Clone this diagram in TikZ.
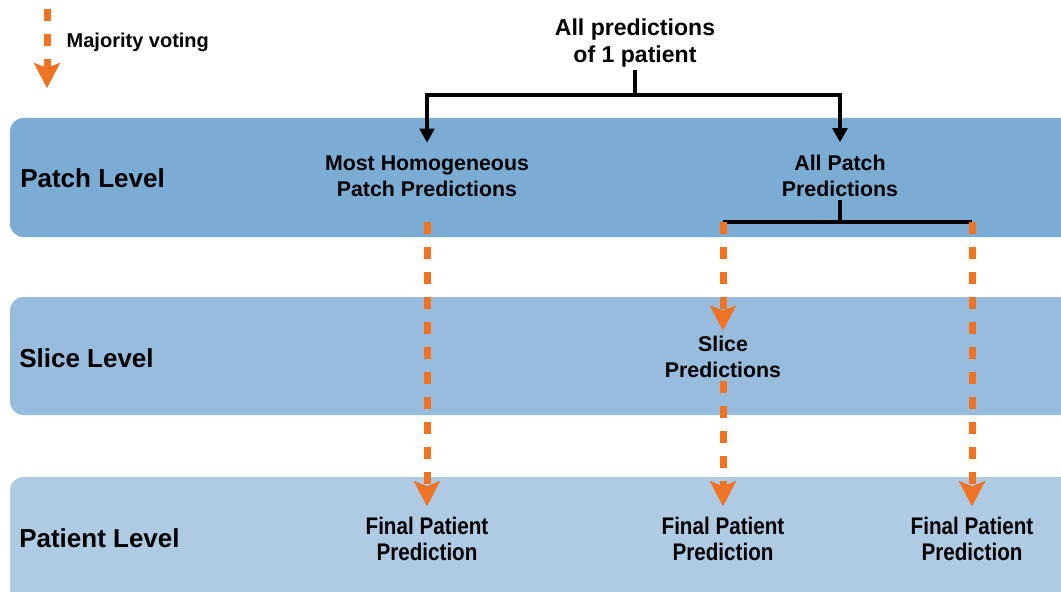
\documentclass[tikz,border=0pt]{standalone}
\usepackage{fontspec}
\setmainfont{Liberation Sans}
\newfontfamily\narrowsans{Liberation Sans}[FakeStretch=0.86]
\usetikzlibrary{arrows.meta}

\definecolor{patchband}{RGB}{123,173,212}
\definecolor{sliceband}{RGB}{151,188,221}
\definecolor{patientband}{RGB}{175,203,228}
\definecolor{voteorange}{RGB}{240,115,35}

\tikzset{
  band/.style={fill=#1, rounded corners=10pt},
  levelname/.style={anchor=west, inner sep=0pt, font=\bfseries\fontsize{19.5}{23}\selectfont},
  pred/.style={align=center, inner sep=2pt, font=\bfseries\fontsize{16}{19.5}\selectfont},
  finalpred/.style={align=center, inner sep=2pt, font=\narrowsans\bfseries\fontsize{18}{19.5}\selectfont},
  split/.style={draw=black, line width=2.4pt},
  vote/.style={draw=voteorange, line width=5.25pt, dash pattern=on 9pt off 9.75pt,
    -{Stealth[length=19pt,width=20pt,inset=4pt,line width=0.5pt,fill=voteorange]}},
}

\begin{document}
\begin{tikzpicture}[x=0.75pt, y=-0.75pt]
      \useasboundingbox (0,0) rectangle (1061,592);
      \clip (0,0) rectangle (1061,592);
      %
      \fill[band=patchband]   (10,118) rectangle (1090,237);   % bands
      \fill[band=sliceband]   (10,297) rectangle (1090,415);
      \fill[band=patientband] (10,477) rectangle (1090,620);
      %
      \node[levelname] (patchlevel)   at (20,178) {Patch Level};
      \node[levelname] (slicelevel)   at (19,358) {Slice Level};
      \node[levelname] (patientlevel) at (19,538) {Patient Level};
      %
      \coordinate (legendtop) at (47,9);                        % legend
      \coordinate (legendtip) at (47,88);
      \draw[vote] (legendtop) -- (legendtip);
      \node[anchor=west, font=\bfseries\fontsize{15}{18}\selectfont] (legendtext) at (62,42) {Majority voting};
      %
      \node[pred, font=\bfseries\fontsize{17.3}{20.25}\selectfont] (allpred) at (635,43) {All predictions\\of 1 patient};
      \node[pred] (homog)    at (427,176) {Most Homogeneous\\Patch Predictions};
      \node[pred] (allpatch) at (840,176) {All Patch\\Predictions};
      \node[pred] (slice)    at (723,357) {Slice\\Predictions};
      %
      \node[finalpred] (final1) at (427,539) {Final Patient\\Prediction};
      \node[finalpred] (final2) at (723,539) {Final Patient\\Prediction};
      \node[finalpred] (final3) at (972,539) {Final Patient\\Prediction};
      %
      \coordinate (allsplit) at (635,95);                       % black brackets
      \coordinate (homogout) at (427,222);
      \coordinate (forkL) at (723,222);
      \coordinate (forkR) at (972,222);
      \draw[split] (allpred.south) -- (allsplit);
      \draw[split, {Triangle[length=10.5pt,width=11pt]}-{Triangle[length=10.5pt,width=11pt]},
        shorten <=7.5pt, shorten >=7.5pt]
        (homog.north) |- (allsplit) -| (allpatch.north);
      \draw[split] (allpatch.south) -- (allpatch.south |- forkL);
      \draw[split] (forkL) -- (forkR);
      %
      \draw[vote, shorten >=6pt] (homogout) -- (final1.north);  % majority voting
      \draw[vote, shorten >=2pt] (forkL) -- (slice.north);
      \draw[vote, shorten >=6pt] (slice.south) -- (final2.north);
      \draw[vote, shorten >=6pt] (forkR) -- (final3.north);
      %
    \end{tikzpicture}
\end{document}
